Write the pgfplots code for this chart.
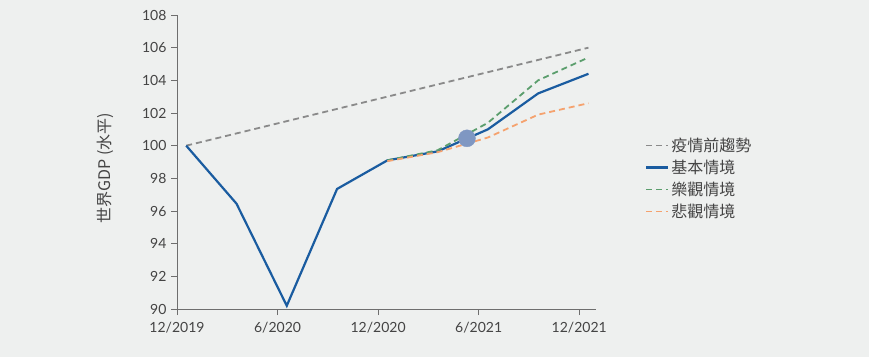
\documentclass[border=0pt]{standalone}
\usepackage{fontspec}
\setmainfont{Lato}
\newfontfamily\cjk{Noto Sans CJK TC}
\usepackage{pgfplots}
\pgfplotsset{compat=1.18}
\definecolor{bg}{HTML}{EEF0EF}
\definecolor{cblue}{HTML}{1A5CA0}
\definecolor{cgray}{HTML}{8A8A8A}
\definecolor{cgreen}{HTML}{5B9E6D}
\definecolor{corange}{HTML}{F5A26E}
\definecolor{ccircle}{HTML}{7F97C2}
\definecolor{ctext}{HTML}{444444}
\definecolor{caxis}{HTML}{6E6E6E}
\begin{document}
\begin{tikzpicture}[x=1pt,y=1pt]
\fill[bg] (0,0) rectangle (869,357);
\useasboundingbox (0,0) rectangle (869,357);
\begin{axis}[
  at={(177pt,48pt)}, anchor=south west,
  scale only axis, width=419pt, height=294pt,
  xmin=0, xmax=25, ymin=90, ymax=108,
  axis x line*=bottom, axis y line*=left,
  axis line style={caxis, line width=0.8pt, -},
  xtick={0,6,12,18,24},
  xticklabels={12/2019,6/2020,12/2020,6/2021,12/2021},
  ytick={90,92,...,108},
  tick align=outside, major tick length=6pt,
  tick style={caxis, line width=0.8pt},
  ticklabel style={font=\fontsize{14}{16}\selectfont, text=ctext},
  /pgf/number format/assume math mode=true,
  xticklabel style={yshift=-4pt},
  yticklabel style={xshift=-1pt},
  ylabel={\cjk 世界GDP (水平)},
  ylabel style={at={(axis description cs:-0.172,0.48)}, anchor=center, font=\fontsize{16}{18}\selectfont, text=ctext},
  legend style={at={(axis description cs:1.117,0.444)}, anchor=west, draw=none, fill=none,
    font=\cjk\fontsize{16}{18}\selectfont, text=ctext, row sep=3pt, inner sep=0pt,
    legend cell align=left},
  legend image code/.code={\draw[#1] (0pt,0pt) -- (22pt,0pt);},
  clip=false,
]
\addplot[cgray, line width=1.8pt, dash pattern=on 6pt off 4pt] coordinates {
 (0.55,100) (3.55,100.75) (6.55,101.5) (9.55,102.25) (12.55,103) (15.55,103.75) (18.55,104.5) (21.55,105.25) (24.55,106)};
\addlegendentry{疫情前趨勢}
\addplot[cblue, line width=2.2pt] coordinates {
 (0.55,100) (3.55,96.45) (6.55,90.2) (9.55,97.35) (12.55,99.1) (15.55,99.65) (18.55,101.0) (21.55,103.2) (24.55,104.4)};
\addlegendentry{基本情境}
\addplot[cgreen, line width=1.8pt, dash pattern=on 6pt off 4pt] coordinates {
 (12.55,99.1) (15.55,99.72) (18.55,101.4) (21.55,104.0) (24.55,105.4)};
\addlegendentry{樂觀情境}
\addplot[corange, line width=1.8pt, dash pattern=on 6pt off 4pt] coordinates {
 (12.55,99.05) (15.55,99.6) (18.55,100.5) (21.55,101.9) (24.55,102.6)};
\addlegendentry{悲觀情境}
\addplot[ccircle, only marks, mark=*, mark size=8.5pt, mark options={fill=ccircle, draw=ccircle}, forget plot] coordinates {(17.3,100.45)};
\end{axis}
\end{tikzpicture}
\end{document}
